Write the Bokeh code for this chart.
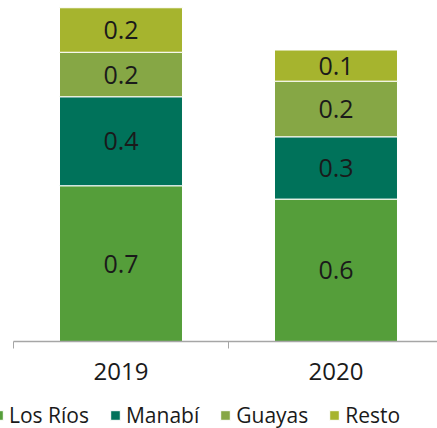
from bokeh.plotting import figure
from bokeh.models import ColumnDataSource, Range1d, FixedTicker, Legend, LegendItem
from bokeh.core.properties import value
from bokeh.embed import file_html
from bokeh.resources import INLINE

years = ["2019", "2020"]
series = ["Los Ríos", "Manabí", "Guayas", "Resto"]
los_rios = [0.70, 0.64]
manabi = [0.40, 0.28]
guayas = [0.20, 0.25]
resto = [0.20, 0.14]
colors = ["#559E3A", "#00725A", "#86A745", "#A6B42E"]

FONT = "Open Sans"
keys = ["los_rios", "manabi", "guayas", "resto"]
xs = [i + 0.5 for i in range(len(years))]
data = dict(x=xs, los_rios=los_rios, manabi=manabi, guayas=guayas, resto=resto)
src = ColumnDataSource(data)

W, H = 437, 428
KX, KY = 215.0, 222.5          # pixels per unit
X0, Y0 = 13, 341               # pixel position of x=0, y=0
x_end = (W - X0) / KX
p = figure(width=W, height=H, output_backend="svg", toolbar_location=None,
           x_range=Range1d(-X0 / KX, x_end), y_range=Range1d(-(H - Y0) / KY, Y0 / KY),
           min_border_left=0, min_border_right=0, min_border_top=0, min_border_bottom=0)
p.outline_line_color = None
p.xgrid.visible = False
p.ygrid.visible = False
p.yaxis.visible = False
p.background_fill_color = None
p.border_fill_color = None

rs = p.vbar_stack(keys, x="x", width=0.572, source=src, fill_color=colors,
                  line_color="white", line_width=1)

# value labels
lx, ly, lt = [], [], []
arrays = [los_rios, manabi, guayas, resto]
for i, x in enumerate(xs):
    base = 0.0
    for arr in arrays:
        v = arr[i]
        lx.append(x)
        ly.append(base + v / 2)
        lt.append(f"{v:.1f}")
        base += v
p.text(x=lx, y=ly, text=lt, text_align="center", text_baseline="middle",
       text_font=value(FONT), text_font_size="25px", text_color="#1a1a1a")

ax = p.xaxis[0]
ax.fixed_location = 0
ax.bounds = (0, x_end)
ax.ticker = FixedTicker(ticks=xs, minor_ticks=[float(i) for i in range(len(years) + 1)])
ax.major_label_overrides = {x: y for x, y in zip(xs, years)}
ax.major_tick_line_color = None
ax.minor_tick_line_color = "#A6A6A6"
ax.minor_tick_in = 0
ax.minor_tick_out = 7
ax.axis_line_color = "#A6A6A6"
ax.axis_line_width = 1.5
ax.major_label_text_font = FONT
ax.major_label_text_font_size = "24px"
ax.major_label_text_color = "#1a1a1a"
ax.major_label_standoff = 14

legend = Legend(items=[LegendItem(label=s, renderers=[r]) for s, r in zip(series, rs)],
                orientation="horizontal", location=(-8, -1),
                glyph_width=12, glyph_height=12, label_standoff=5, spacing=20,
                padding=0, margin=0, border_line_color=None, background_fill_alpha=0,
                label_text_font=FONT, label_text_font_size="21px", label_text_color="#1a1a1a")
p.add_layout(legend, "center")

open("out.html", "w").write(file_html(p, INLINE))
